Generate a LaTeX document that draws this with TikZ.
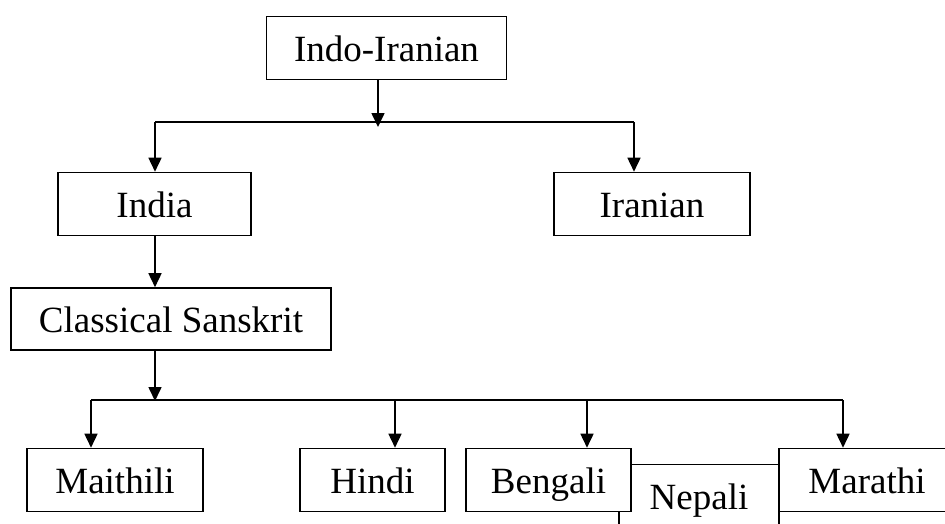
\documentclass[tikz,border=0pt]{standalone}
\usepackage{fontspec}
\setmainfont{Liberation Serif}
\usetikzlibrary{arrows.meta}
\begin{document}
\begin{tikzpicture}[x=1pt,y=-1pt,
  box/.style={draw,line width=1.6pt,fill=white,inner sep=0pt,
    text height=26pt,text depth=0pt,minimum height=63pt,
    font=\fontsize{37}{40}\selectfont},
  conn/.style={line width=1.6pt},
  arr/.style={conn,-{Triangle[length=14pt,width=13pt]}}]
\clip (0,0) rectangle (945,523);
\fill[white] (0,0) rectangle (945,523);
% boxes
\node[box,minimum width=240pt] (ii) at (386.5,48) {Indo-Iranian};
\node[box,minimum width=193pt] (india) at (154.5,204) {India};
\node[box,minimum width=196pt] (iran) at (652,204) {Iranian};
\node[box,minimum width=320pt,minimum height=62pt] (cs) at (171,319) {Classical Sanskrit};
\node[box,minimum width=176pt] (mai) at (115,480) {Maithili};
\node[box,minimum width=145pt] (hin) at (372.5,480) {Hindi};
\node[box,minimum width=160pt] (nep) at (699,496) {Nepali};
\node[box,minimum width=165pt] (ben) at (548.5,480) {Bengali};
\node[box,minimum width=176pt] (mar) at (867,480) {Marathi};
% level 1 connectors
\coordinate (b1l) at (155,122);
\coordinate (b1r) at (634,122);
\coordinate (t1) at (378,127);
\draw[arr] (ii.south -| t1) -- (t1);
\draw[conn] (b1l) -- (b1r);
\draw[arr] (b1l) -- (b1l |- india.north);
\draw[arr] (b1r) -- (b1r |- iran.north);
% India -> Classical Sanskrit
\coordinate (c1) at (155,0);
\draw[arr] (c1 |- india.south) -- (c1 |- cs.north);
% level 2 connectors
\coordinate (b2l) at (91,400);
\coordinate (b2r) at (843,400);
\coordinate (t2) at (155,401);
\coordinate (x2) at (395,400);
\coordinate (x3) at (587,400);
\draw[conn] (b2l) -- (b2r);
\draw[arr] (cs.south -| t2) -- (t2);
\draw[arr] (b2l) -- (b2l |- mai.north);
\draw[arr] (x2) -- (x2 |- hin.north);
\draw[arr] (x3) -- (x3 |- ben.north);
\draw[arr] (b2r) -- (b2r |- mar.north);
\end{tikzpicture}
\end{document}
